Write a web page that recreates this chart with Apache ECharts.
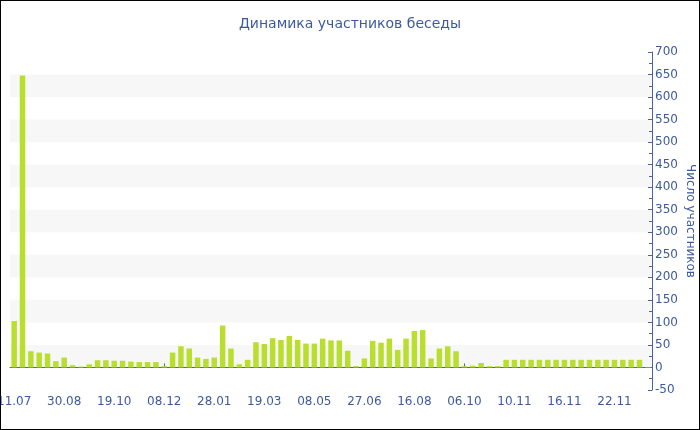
<!DOCTYPE html>
<html>
<head>
<meta charset="utf-8">
<script src="https://cdn.jsdelivr.net/npm/echarts@6/dist/echarts.min.js"></script>
<style>
html,body{margin:0;padding:0;background:#fff;}
#frame{width:700px;height:430px;box-sizing:border-box;border:1px solid #000;position:relative;overflow:hidden;}
#chart{position:absolute;left:-1px;top:-1px;width:700px;height:430px;}
</style>
</head>
<body>
<div id="frame"><div id="chart"></div></div>
<script>
// Tick labels shown every 6th category (from the reference)
const tickLabels = ['11.07','30.08','19.10','08.12','28.01','19.03','08.05','27.06','16.08','06.10','10.11','16.11','22.11'];
const labelStep = 6;
const categoryCount = 77;

// Participant counts
const participants = [
  103, 648, 36, 33, 31, 14, 22, 5, 2, 7, 16, 16, 15, 15, 13, 12, 12, 12, 3, 33, 47,
  42, 22, 19, 22, 93, 42, 7, 17, 56, 52, 65, 61, 70, 61, 53, 53, 64, 60, 60, 37,
  3, 20, 59, 55, 64, 39, 64, 81, 83, 20, 42, 47, 36, 3, 4, 10, 3, 3, 17, 17,
  17, 17, 17, 17, 17, 17, 17, 17, 17, 17, 17, 17, 17, 17, 17, 1
];

const titleText = 'Динамика участников беседы';
const yAxisName = 'Число участников';

const categories = [];
for (let i = 0; i < categoryCount; i++) {
  categories.push(i % labelStep === 0 ? (tickLabels[i / labelStep] || '') : '');
}

const blue = '#3d5aa0';
const axisBlue = '#4a63a8';
const font = 'DejaVu Sans';

const chart = echarts.init(document.getElementById('chart'), null, {renderer: 'canvas'});
chart.setOption({
  animation: false,
  backgroundColor: '#fff',
  title: {
    text: titleText,
    left: 'center',
    top: 12,
    textStyle: {color: blue, fontFamily: font, fontSize: 14, fontWeight: 'normal'}
  },
  grid: {left: 10, right: 48, top: 52, bottom: 40, containLabel: false, outerBoundsMode: 'none'},
  xAxis: {
    type: 'category',
    data: categories,
    boundaryGap: true,
    axisLine: {lineStyle: {color: axisBlue, width: 1}},
    axisTick: {show: true, inside: true, length: 4, alignWithLabel: true, interval: labelStep - 1, lineStyle: {color: axisBlue}},
    axisLabel: {interval: labelStep - 1, color: blue, fontFamily: font, fontSize: 12, margin: 6, showMinLabel: true, hideOverlap: false},
    splitLine: {show: false}
  },
  yAxis: {
    type: 'value',
    position: 'right',
    min: -50,
    max: 700,
    interval: 50,
    name: yAxisName,
    nameLocation: 'middle',
    nameRotate: -90,
    nameGap: 32,
    nameMoveOverlap: false,
    nameTextStyle: {color: blue, fontFamily: font, fontSize: 12},
    axisLine: {show: true, lineStyle: {color: axisBlue, width: 1}},
    axisTick: {show: true, inside: true, length: 4, lineStyle: {color: axisBlue}},
    minorTick: {show: true, splitNumber: 2, length: 3, lineStyle: {color: axisBlue}},
    axisLabel: {color: blue, fontFamily: font, fontSize: 12, margin: 3},
    splitLine: {show: false},
    splitArea: {show: true, areaStyle: {color: ['rgba(255,255,255,0)', '#f7f7f7']}}
  },
  series: [{
    type: 'bar',
    data: participants,
    barWidth: '66%',
    itemStyle: {color: '#bade2e'}
  }]
});
</script>
</body>
</html>
